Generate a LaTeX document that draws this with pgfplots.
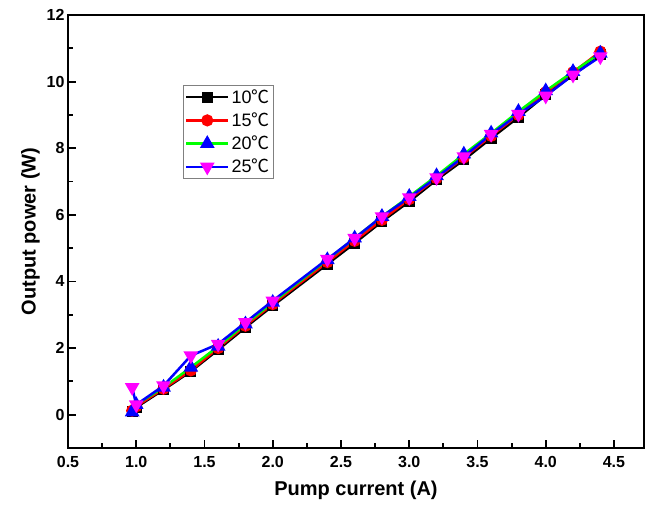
\documentclass[border=0pt]{standalone}
\usepackage{pgfplots}
\pgfplotsset{compat=1.18}
\usepackage{fontspec}
\setmainfont{Liberation Sans}
\newfontfamily\cjk{Noto Sans CJK SC}
\definecolor{mygreen}{RGB}{0,255,0}
\definecolor{mymag}{RGB}{255,0,255}

\pgfplotstableread{
I    A     B     C     D
0.97 0.10  0.12  0.08  0.82
1.00 0.22  0.25  0.30  0.30
1.20 0.75  0.78  0.82  0.87
1.40 1.30  1.33  1.42  1.77
1.60 1.95  2.00  2.05  2.12
1.80 2.62  2.67  2.72  2.77
2.00 3.27  3.32  3.37  3.42
2.40 4.52  4.58  4.65  4.67
2.60 5.15  5.22  5.30  5.30
2.80 5.80  5.85  5.95  5.95
3.00 6.40  6.47  6.55  6.52
3.20 7.05  7.10  7.17  7.12
3.40 7.65  7.72  7.82  7.75
3.60 8.30  8.37  8.45  8.42
3.80 8.93  9.00  9.10  9.02
4.00 9.60  9.68  9.72  9.57
4.20 10.20 10.28 10.30 10.20
4.40 10.82 10.90 10.85 10.75
}\data

\begin{document}
\begin{tikzpicture}
\begin{axis}[
  width=576pt, height=433pt, scale only axis,
  xmin=0.5, xmax=4.72, ymin=-1, ymax=12,
  xtick={0.5,1,...,4.5}, ytick={0,2,...,12},
  minor x tick num=1, minor y tick num=1,
  xticklabel style={yshift=-5pt, /pgf/number format/.cd,fixed,fixed zerofill,precision=1},
  tick label style={font=\fontsize{16}{19}\selectfont\bfseries},
  /pgf/number format/assume math mode=true,
  tick align=inside, major tick length=8pt, minor tick length=5pt,
  xtick pos=bottom, ytick pos=left,
  axis line style={line width=1.8pt},
  every tick/.style={line width=1.8pt, black},
  xlabel={Pump current (A)}, ylabel={Output power (W)},
  label style={font=\fontsize{20}{23}\selectfont\bfseries},
  xlabel style={yshift=-6pt},
  ylabel style={yshift=0pt},
  legend style={at={(0.199,0.838)}, anchor=north west, draw=gray, line width=0.8pt,
    font=\fontsize{18}{21}\selectfont, row sep=4pt, inner sep=2pt},
  legend cell align=left,
  legend image code/.code={\draw[mark repeat=2,mark phase=2] plot coordinates {(0pt,0pt) (21pt,0pt) (42pt,0pt)};},
  every axis plot/.append style={line width=2.5pt},
]
\addplot[black, mark=square*, mark size=4.2pt] table[x=I,y=A] {\data};
\addlegendentry{10{\cjk ℃}}
\addplot[red, mark=*, mark size=4.8pt] table[x=I,y=B] {\data};
\addlegendentry{15{\cjk ℃}}
\addplot[mygreen, mark=triangle*, mark size=6pt, mark options={blue}] table[x=I,y=C] {\data};
\addlegendentry{20{\cjk ℃}}
\addplot[blue, mark=triangle*, mark size=6pt, mark options={mymag, rotate=180}] table[x=I,y=D] {\data};
\addlegendentry{25{\cjk ℃}}
\end{axis}
\path ([shift={(-68pt,-62pt)}]current axis.south west) rectangle ([shift={(2pt,15pt)}]current axis.north east);
\end{tikzpicture}
\end{document}
